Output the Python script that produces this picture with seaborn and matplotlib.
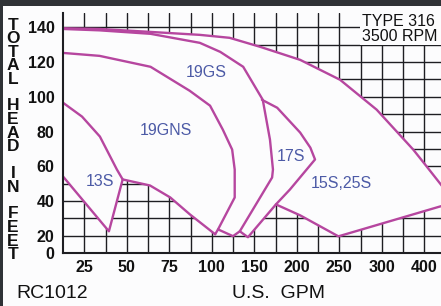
import matplotlib
matplotlib.use('Agg')
import matplotlib.pyplot as plt
import numpy as np
import pandas as pd
import seaborn as sns
from matplotlib.patches import Rectangle

sns.set_style('white')
plt.rcParams['font.family'] = ['Liberation Sans', 'DejaVu Sans']

# the GPM axis is not linear: labels are evenly spaced
scale_gpm = [0, 25, 50, 75, 100, 150, 200, 250, 300, 400, 500]
scale_pos = [0, 1, 2, 3, 4, 5, 6, 7, 8, 9, 10]

gpm_ticks = [25, 50, 75, 100, 150, 200, 250, 300, 400]
gpm_grid = [25, 37.5, 50, 62.5, 75, 87.5, 100, 125, 150, 175, 200, 225, 250, 275, 300, 350, 400]
head_ticks = [10, 20, 40, 60, 80, 100, 120, 140]
head_tick_labels = ['0', '20', '40', '60', '80', '100', '120', '140']
head_grid = [20, 30, 40, 50, 60, 70, 80, 90, 100, 110, 120, 130, 140]

# pump curves (GPM, feet of head)
envelope_gpm = [12.5, 34, 64, 93, 121, 157, 204, 251, 294, 374, 402, 439, 472]
envelope_head = [139.5, 139.1, 137.4, 135.7, 134, 128.8, 121.3, 109.8, 92.6, 69.6, 61, 49.5, 39]

s15_bottom_gpm = [472, 437, 249, 204, 175.5]
s15_bottom_head = [39, 36.8, 19.6, 31.7, 38.0]

s17_gpm = [159, 177, 204, 216, 221.5, 192, 175.5, 142.6, 133]
s17_head = [98.3, 93.7, 79.4, 70.7, 63.9, 46.6, 38.0, 19.1, 22.5]

gs_gpm = [12.5, 34, 64, 93, 110, 137, 160, 168.5, 172, 171, 133, 125, 107.4]
gs_head = [139.1, 138.3, 136.3, 131.1, 125.9, 117.3, 98.3, 75.3, 58.1, 53.5, 22.5, 19.7, 23.6]

gns_top_gpm = [12.5, 34, 64, 87, 99, 113, 124, 127, 127, 107.4, 104]
gns_top_head = [125.3, 123.6, 117.3, 103.5, 94.9, 81.1, 69.6, 58.1, 42.0, 23.6, 20.8]

gns_bot_gpm = [12.5, 23.7, 34.2, 44.2, 47.6, 63.7, 75.6, 87.2, 104]
gns_bot_head = [96.6, 88.6, 77.1, 58.1, 52.4, 48.9, 42.0, 32.2, 20.8]

s13_gpm = [12.5, 39.5, 47.6]
s13_head = [54.1, 22.5, 52.4]

region_names = ['19GS', '19GNS', '17S', '13S', '15S,25S']
region_gpm = [97, 73, 193, 34, 253]
region_head = [114, 80.5, 65.6, 51.2, 50]

curves = {
    'envelope': (envelope_gpm, envelope_head),
    '15S': (s15_bottom_gpm, s15_bottom_head),
    '17S': (s17_gpm, s17_head),
    '19GS': (gs_gpm, gs_head),
    '19GNS top': (gns_top_gpm, gns_top_head),
    '19GNS bottom': (gns_bot_gpm, gns_bot_head),
    '13S': (s13_gpm, s13_head),
}
df = pd.concat([pd.DataFrame({'gpm': g, 'head': h, 'curve': name})
                for name, (g, h) in curves.items()], ignore_index=True)

# outline of the covered area (filled white over the grid)
fill_gpm = (envelope_gpm + s15_bottom_gpm + s17_gpm[-3:] + gs_gpm[-2:]
            + gns_top_gpm[-1:] + gns_bot_gpm[-2:3:-1] + s13_gpm[-2::-1])
fill_head = (envelope_head + s15_bottom_head + s17_head[-3:] + gs_head[-2:]
             + gns_top_head[-1:] + gns_bot_head[-2:3:-1] + s13_head[-2::-1])


def fwd(x):
    return np.interp(x, scale_gpm, scale_pos)


def inv(u):
    return np.interp(u, scale_pos, scale_gpm)


bg = '#fcfcfd'
grid_col = '#1e1e22'
pink = '#b6469f'
blue = '#4c5aa6'

fig = plt.figure(figsize=(4.41, 3.06), dpi=100, facecolor=bg)
ax = fig.add_axes([63 / 441, 53 / 306, 378 / 441, 240 / 306], facecolor=bg)
ax.set_xscale('function', functions=(fwd, inv))
ax.set_xlim(12.5, 439.4)
ax.set_ylim(10, 148.3)

for y in head_grid:
    ax.axhline(y, color=grid_col, lw=1.0, zorder=0.5)
for x in gpm_grid:
    ax.axvline(x, color=grid_col, lw=1.0, zorder=0.5)

ax.fill(fill_gpm, fill_head, color=bg, lw=0, zorder=1)

sns.lineplot(data=df, x='gpm', y='head', units='curve', estimator=None, sort=False,
             color=pink, lw=1.7, ax=ax, legend=False, zorder=3)

for name, g, h in zip(region_names, region_gpm, region_head):
    ax.text(g, h, name, color=blue, fontsize=11.5, ha='center', va='center', zorder=4)

ax.set_xticks(gpm_ticks)
ax.set_xticklabels([str(v) for v in gpm_ticks])
ax.set_xticks([], minor=True)
ax.set_yticks(head_ticks)
ax.set_yticklabels(head_tick_labels)
ax.set_yticks([], minor=True)
ax.set_axisbelow(False)
ax.tick_params(axis='x', length=0, pad=5, labelsize=11.5, colors='#111')
ax.tick_params(axis='y', direction='inout', length=6, width=1.2, pad=3,
               labelsize=11.5, colors='#111')
plt.setp(ax.get_xticklabels() + ax.get_yticklabels(), fontweight='bold')
ax.set_xlabel('')
ax.set_ylabel('')

for side in ['top', 'right']:
    ax.spines[side].set_visible(False)
for side in ['left', 'bottom']:
    ax.spines[side].set_color(grid_col)
    ax.spines[side].set_linewidth(1.5)
    ax.spines[side].set_zorder(5)

# rating box, top right
ax.add_patch(Rectangle((0.786, 0.867), 0.25, 0.2, transform=ax.transAxes,
                       facecolor=bg, edgecolor='none', zorder=6, clip_on=False))
ax.text(0.792, 0.995, 'TYPE 316\n3500 RPM', transform=ax.transAxes, fontsize=11.5,
        ha='left', va='top', linespacing=1.0, color='#111', zorder=7)

# stacked axis title
ylabel = 'TOTAL HEAD IN FEET'.replace(' ', ' ')
for i, ch in enumerate(ylabel):
    fig.text(13 / 441, 1 - (25 + i * 13.5) / 306, ch, fontsize=12.5, fontweight='bold',
             ha='center', va='center', color='#111')

fig.text(16 / 441, 1 - 294 / 306, 'RC1012', fontsize=14, ha='left', va='center', color='#111')
fig.text(278 / 441, 1 - 294 / 306, 'U.S.  GPM', fontsize=14, ha='center', va='center', color='#111')

# dark screenshot edges
fig.add_artist(Rectangle((0, 1 - 6 / 306), 1, 6 / 306, transform=fig.transFigure,
                         facecolor='#2f3236', edgecolor='none'))
fig.add_artist(Rectangle((0, 0), 3 / 441, 1, transform=fig.transFigure,
                         facecolor='#2f3236', edgecolor='none'))

fig.savefig('out.png', dpi=100, facecolor=bg)
